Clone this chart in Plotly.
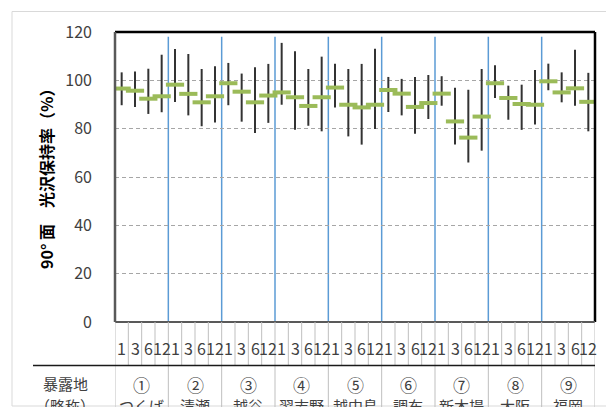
import plotly.graph_objects as go

# Exposure sites (abbreviated) and exposure periods (months)
site_marks = ["①", "②", "③", "④", "⑤", "⑥", "⑦", "⑧", "⑨"]
sites = ["つくば", "清瀬", "越谷", "習志野", "越中島", "調布", "新木場", "大阪", "福岡"]
months = ["1", "3", "6", "12"]

# Gloss retention of 90° surfaces (%): mean, max and min per site/period
gloss_mean = [96.6, 95.7, 92.4, 93.4,
              98.2, 94.4, 90.9, 93.4,
              98.8, 95.3, 90.9, 93.7,
              95.0, 93.0, 89.4, 93.0,
              97.0, 89.9, 88.8, 89.9,
              96.0, 94.5, 89.0, 90.6,
              94.5, 83.0, 76.3, 85.0,
              98.8, 92.7, 90.2, 89.9,
              99.6, 95.0, 96.7, 91.1]
gloss_max = [103.3, 103.7, 104.8, 110.6,
             113.0, 110.9, 104.7, 105.8,
             107.2, 102.8, 105.4, 106.8,
             115.5, 112.0, 104.7, 109.8,
             106.9, 104.7, 106.8, 113.1,
             101.4, 100.6, 101.4, 102.2,
             101.7, 96.9, 96.1, 104.7,
             106.2, 97.8, 98.2, 104.3,
             106.9, 103.3, 112.7, 103.1]
gloss_min = [89.7, 89.0, 86.1, 86.8,
             91.0, 85.5, 81.0, 82.6,
             89.7, 82.9, 78.2, 82.4,
             89.9, 79.6, 81.2, 78.9,
             88.8, 76.8, 73.4, 79.9,
             86.9, 85.5, 77.9, 84.0,
             89.5, 73.4, 66.0, 70.9,
             92.7, 83.7, 79.5, 81.7,
             95.9, 90.9, 89.5, 78.9]
divider_top = 118

W, H = 606, 407
ML, MR, MT, MB = 115, 11, 32, 85
PW, PH = W - ML - MR, H - MT - MB

n_per = len(months)
n = len(sites) * n_per
xs = list(range(n))

JP = "Noto Sans CJK JP, Noto Sans, sans-serif"
TXT = "#404040"

fig = go.Figure()

fig.add_trace(go.Scatter(
    x=xs, y=gloss_mean, mode="markers",
    marker=dict(symbol="line-ew", size=13, color="#9BBB59",
                line=dict(color="#9BBB59", width=4)),
    error_y=dict(type="data", symmetric=False,
                 array=[h - m for h, m in zip(gloss_max, gloss_mean)],
                 arrayminus=[m - l for m, l in zip(gloss_mean, gloss_min)],
                 thickness=2, width=0, color="#333333"),
    showlegend=False, hoverinfo="skip",
))

shapes = []
annotations = []


def px_y(py):
    """Convert a page pixel row to paper y."""
    return (H - MB - py) / PH


def px_x(px):
    return (px - ML) / PW


# blue dividers between sites inside the plot
for g in range(1, len(sites)):
    b = g * n_per - 0.5
    shapes.append(dict(type="line", xref="x", yref="y", x0=b, x1=b,
                       y0=0, y1=divider_top, layer="below",
                       line=dict(color="#5B9BD5", width=1.5)))

# outer chart frame
shapes.append(dict(type="rect", xref="paper", yref="paper",
                   x0=px_x(12), x1=px_x(W + 2), y0=px_y(406), y1=px_y(11.5),
                   line=dict(color="#D9D9D9", width=1), layer="below"))

# plot frame: top and right black, left and bottom gray
shapes.append(dict(type="line", xref="paper", yref="paper", x0=0, x1=1, y0=1, y1=1,
                   line=dict(color="#000000", width=2.5)))
shapes.append(dict(type="line", xref="paper", yref="paper", x0=1, x1=1, y0=0, y1=1,
                   line=dict(color="#000000", width=2.5)))
shapes.append(dict(type="line", xref="paper", yref="paper", x0=0, x1=0, y0=0, y1=1,
                   line=dict(color="#595959", width=2.5)))
shapes.append(dict(type="line", xref="paper", yref="paper", x0=0, x1=1, y0=0, y1=0,
                   line=dict(color="#595959", width=2)))

# period separators below the axis
for i in range(n + 1):
    b = i - 0.5
    shapes.append(dict(type="line", xref="x", yref="paper", x0=b, x1=b,
                       y0=px_y(365), y1=0,
                       line=dict(color="#BFBFBF", width=1)))
# site separators under the horizontal rule
for g in range(len(sites) + 1):
    b = g * n_per - 0.5
    shapes.append(dict(type="line", xref="x", yref="paper", x0=b, x1=b,
                       y0=px_y(407), y1=px_y(365),
                       line=dict(color="#BFBFBF", width=1)))
# horizontal rule between the two label rows
shapes.append(dict(type="line", xref="paper", yref="paper",
                   x0=px_x(33), x1=1, y0=px_y(365.5), y1=px_y(365.5),
                   line=dict(color="#1a1a1a", width=1.5)))

# period labels
for i in xs:
    annotations.append(dict(x=i, y=px_y(347.5), xref="x", yref="paper",
                            text=months[i % n_per], showarrow=False,
                            font=dict(family=JP, size=16, color=TXT),
                            xanchor="center", yanchor="middle"))
# site labels
for g, (mk, nm) in enumerate(zip(site_marks, sites)):
    cx = g * n_per + (n_per - 1) / 2
    annotations.append(dict(x=cx, y=px_y(384), xref="x", yref="paper",
                            text=mk, showarrow=False,
                            font=dict(family=JP, size=17, color=TXT),
                            xanchor="center", yanchor="middle"))
    annotations.append(dict(x=cx, y=px_y(405), xref="x", yref="paper",
                            text=nm, showarrow=False,
                            font=dict(family=JP, size=15, color=TXT),
                            xanchor="center", yanchor="middle"))

annotations.append(dict(x=px_x(65), y=px_y(383.5), xref="paper", yref="paper",
                        text="暴露地", showarrow=False,
                        font=dict(family=JP, size=15, color=TXT),
                        xanchor="center", yanchor="middle"))
annotations.append(dict(x=px_x(65), y=px_y(405), xref="paper", yref="paper",
                        text="（略称）", showarrow=False,
                        font=dict(family=JP, size=15, color=TXT),
                        xanchor="center", yanchor="middle"))

# y-axis title
annotations.append(dict(x=px_x(46), y=px_y(175), xref="paper", yref="paper",
                        text="<b>90° 面　光沢保持率（%）</b>", showarrow=False,
                        textangle=-90,
                        font=dict(family=JP, size=16, color="#000000"),
                        xanchor="center", yanchor="middle"))

fig.update_layout(
    width=W, height=H,
    margin=dict(l=ML, r=MR, t=MT, b=MB, pad=0),
    paper_bgcolor="white", plot_bgcolor="white",
    shapes=shapes, annotations=annotations,
    xaxis=dict(range=[-0.5, n - 0.5], showticklabels=False, showgrid=False,
               zeroline=False, showline=False, ticks="", fixedrange=True),
    yaxis=dict(range=[0, 120], dtick=20, tick0=0, showgrid=True,
               gridcolor="#A6A6A6", gridwidth=1.3, griddash="4px,3px",
               zeroline=False, showline=False, ticks="",
               ticklabelstandoff=22,
               tickfont=dict(family=JP, size=16, color=TXT), fixedrange=True),
)

fig.write_html("out.html")
